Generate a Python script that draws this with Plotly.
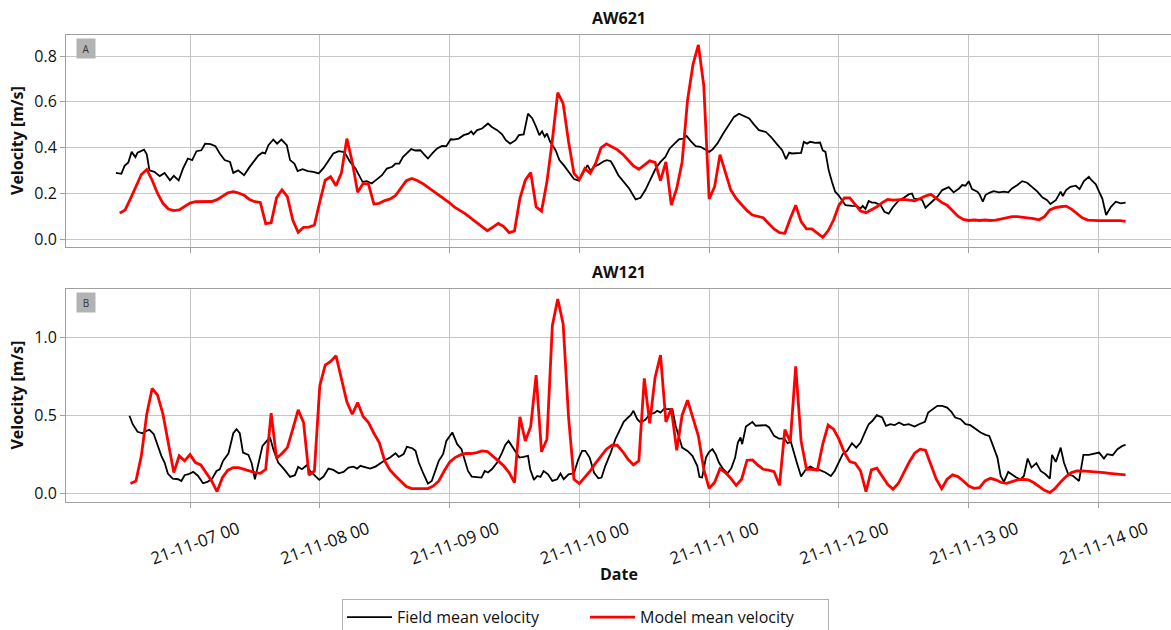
import pandas as pd
import plotly.graph_objects as go
from plotly.subplots import make_subplots

# ---------------- data ----------------
T0 = pd.Timestamp("2021-11-07 00:00")

# AW621 field mean velocity (hours after 2021-11-07 00:00, m/s)
top_field_hours = [
    -13.7, -12.7, -12.1, -11.4, -10.8, -10.1, -9.7, -8.5, -8.0, -7.5,
    -6.6, -5.6, -4.7, -3.7, -3.0, -2.1, -1.3, -0.4, 0.4, 1.2,
    2.1, 2.8, 3.8, 4.7, 5.5, 6.4, 7.4, 8.0, 8.9, 10.0,
    10.9, 11.8, 12.6, 13.4, 13.9, 14.5, 15.4, 16.1, 16.9, 17.9,
    18.5, 19.3, 19.9, 20.8, 21.8, 22.8, 23.8, 24.7, 25.5, 26.5,
    27.5, 28.3, 28.8, 29.6, 30.6, 31.3, 31.9, 32.7, 33.6, 34.6,
    35.5, 36.4, 37.4, 38.0, 38.7, 39.4, 40.1, 40.9, 41.7, 42.6,
    43.4, 44.0, 44.8, 45.7, 46.6, 47.4, 48.2,
    48.7, 49.7, 50.6, 51.5, 52.0, 52.4, 53.1, 54.0, 55.1, 55.8,
    56.8, 57.7, 58.4, 59.2, 60.2, 60.8, 61.7, 62.5, 63.3, 64.0,
    64.6, 65.1, 65.6, 66.0, 66.6, 67.6, 68.3, 69.1, 70.0, 71.0,
    71.9, 72.6, 73.5, 74.1, 74.7, 75.6, 76.5, 77.1, 77.8, 78.4,
    79.2, 80.2, 81.2, 82.4, 83.3, 84.2, 85.2, 86.1, 87.0, 87.9,
    88.7, 89.7, 90.4, 91.2, 91.8, 92.6, 93.5, 94.4, 95.4, 96.0,
    96.6, 97.5, 98.6, 99.7, 100.6, 101.5, 102.4, 103.4, 104.3, 105.2,
    106.5, 107.4, 108.6, 109.5, 110.2, 110.8,
    111.3, 113.0, 113.5, 114.1, 114.7, 115.6, 116.5, 117.0, 117.5, 118.1,
    118.7, 119.3, 119.9, 120.6, 121.2, 122.4, 123.3, 124.0, 124.4, 124.9,
    125.5, 126.1, 126.7, 127.7, 128.4, 129.2, 129.9, 131.1, 132.0, 132.9,
    133.5, 133.9, 134.8, 135.4, 136.0, 137.2, 138.2, 139.1, 140.3, 141.2,
    142.2, 142.8, 143.4, 144.0, 144.6, 145.6, 146.0, 146.6, 147.1, 147.8,
    148.6, 149.6, 150.5, 151.3, 152.0, 153.0, 153.9, 154.8, 155.7, 156.7,
    157.6, 158.5, 159.1, 160.1, 161.0, 161.4, 162.0, 162.8, 163.8, 164.5,
    165.3, 166.2, 166.7, 167.5, 168.1, 168.7, 169.4, 170.3, 171.2, 172.1,
    173.0,
]
top_field = [
    0.289, 0.285, 0.320, 0.335, 0.381, 0.358, 0.378, 0.391, 0.370, 0.300,
    0.294, 0.275, 0.289, 0.257, 0.276, 0.256, 0.308, 0.352, 0.345, 0.384,
    0.388, 0.417, 0.415, 0.406, 0.374, 0.345, 0.337, 0.289, 0.300, 0.279,
    0.311, 0.337, 0.364, 0.378, 0.374, 0.410, 0.435, 0.417, 0.435, 0.410,
    0.345, 0.330, 0.297, 0.305, 0.297, 0.294, 0.287, 0.311, 0.337, 0.374,
    0.384, 0.381, 0.370, 0.337, 0.308, 0.279, 0.250, 0.253, 0.243, 0.262,
    0.279, 0.308, 0.316, 0.330, 0.330, 0.359, 0.374, 0.393, 0.387, 0.388,
    0.367, 0.352, 0.374, 0.396, 0.407, 0.406, 0.436,
    0.435, 0.439, 0.454, 0.461, 0.471, 0.458, 0.476, 0.483, 0.505, 0.490,
    0.476, 0.458, 0.432, 0.417, 0.432, 0.454, 0.457, 0.548, 0.527, 0.490,
    0.454, 0.471, 0.447, 0.461, 0.425, 0.388, 0.345, 0.323, 0.294, 0.262,
    0.255, 0.287, 0.323, 0.297, 0.316, 0.326, 0.340, 0.345, 0.340, 0.316,
    0.279, 0.250, 0.221, 0.173, 0.180, 0.214, 0.265, 0.308, 0.337, 0.359,
    0.396, 0.417, 0.436, 0.439, 0.451, 0.428, 0.406, 0.403, 0.388, 0.381,
    0.391, 0.417, 0.461, 0.500, 0.534, 0.548, 0.538, 0.527, 0.500, 0.476,
    0.468, 0.447, 0.413, 0.388, 0.349, 0.378,
    0.374, 0.377, 0.425, 0.417, 0.425, 0.420, 0.422, 0.388, 0.381, 0.301,
    0.250, 0.207, 0.192, 0.166, 0.148, 0.145, 0.144, 0.134, 0.145, 0.131,
    0.166, 0.159, 0.159, 0.148, 0.119, 0.111, 0.137, 0.170, 0.180, 0.195,
    0.199, 0.177, 0.175, 0.170, 0.137, 0.163, 0.185, 0.214, 0.227, 0.204,
    0.221, 0.236, 0.233, 0.253, 0.218, 0.207, 0.195, 0.163, 0.192, 0.202,
    0.209, 0.204, 0.207, 0.204, 0.221, 0.236, 0.253, 0.246, 0.228, 0.207,
    0.182, 0.170, 0.153, 0.170, 0.207, 0.188, 0.214, 0.228, 0.233, 0.218,
    0.253, 0.272, 0.257, 0.239, 0.207, 0.177, 0.105, 0.141, 0.163, 0.156,
    0.159,
]

# AW621 model mean velocity, hourly, first value at 2021-11-06 11:00
top_model_start = "2021-11-06 11:00"
top_model = [
    0.113, 0.127, 0.177, 0.233, 0.282, 0.304, 0.257, 0.199, 0.156, 0.131,
    0.124, 0.127, 0.141, 0.157, 0.163, 0.164, 0.164, 0.164, 0.172, 0.188,
    0.202, 0.207, 0.201, 0.191, 0.173, 0.163, 0.160, 0.067, 0.071, 0.180,
    0.215, 0.185, 0.083, 0.029, 0.051, 0.052, 0.061, 0.163, 0.257, 0.272,
    0.233, 0.289, 0.439, 0.337, 0.204, 0.243, 0.240, 0.153, 0.156, 0.168,
    0.175, 0.190, 0.223, 0.255, 0.265, 0.256, 0.243, 0.226, 0.213, 0.196,
    0.179, 0.158, 0.138, 0.124, 0.109, 0.090, 0.071, 0.053, 0.036, 0.052,
    0.068, 0.054, 0.028, 0.035, 0.177, 0.257, 0.291, 0.141, 0.122, 0.250,
    0.432, 0.640, 0.592, 0.425, 0.287, 0.260, 0.308, 0.287, 0.330, 0.399,
    0.416, 0.403, 0.391, 0.371, 0.345, 0.320, 0.305, 0.323, 0.342, 0.335,
    0.255, 0.337, 0.148, 0.221, 0.337, 0.607, 0.762, 0.849, 0.672, 0.175,
    0.228, 0.369, 0.294, 0.214, 0.177, 0.148, 0.124, 0.105, 0.100, 0.093,
    0.068, 0.044, 0.028, 0.025, 0.090, 0.148, 0.076, 0.044, 0.044, 0.025,
    0.007, 0.036, 0.083, 0.148, 0.180, 0.180, 0.151, 0.122, 0.115, 0.129,
    0.141, 0.159, 0.173, 0.170, 0.173, 0.173, 0.170, 0.167, 0.177, 0.188,
    0.195, 0.177, 0.160, 0.148, 0.124, 0.100, 0.086, 0.081, 0.083, 0.081,
    0.083, 0.081, 0.083, 0.087, 0.093, 0.098, 0.098, 0.096, 0.093, 0.089,
    0.084, 0.098, 0.127, 0.137, 0.141, 0.144, 0.131, 0.112, 0.093, 0.083,
    0.080, 0.080, 0.080, 0.081, 0.081, 0.080, 0.077,
]

# AW121 field mean velocity (hours after 2021-11-07 00:00, m/s)
bot_field_hours = [
    -11.2, -10.6, -9.7, -8.8, -8.1, -7.5, -6.7, -5.9, -5.3, -4.7,
    -4.1, -3.2, -2.2, -1.6, -1.0, -0.3, 0.6, 1.5, 2.4, 3.2,
    4.1, 4.9, 5.5, 6.1, 7.1, 8.0, 8.6, 9.2, 9.8, 10.8,
    11.4, 12.0, 12.6, 13.4, 14.2, 14.8, 15.4, 16.3, 17.3, 18.5,
    19.4, 20.0, 20.7, 21.6, 22.2, 23.1, 23.9, 24.7, 25.6, 26.5,
    27.5, 28.4, 29.3, 30.2, 30.9, 31.5, 32.4, 33.3, 34.3, 35.2,
    36.1, 37.0, 38.0, 38.6, 39.5, 40.1, 41.1, 41.7, 42.3, 43.2,
    44.0, 44.7, 45.4, 46.0, 46.8, 47.4, 48.5,
    49.4, 50.2, 50.8, 51.4, 52.1, 53.1, 53.9, 54.5, 55.1, 55.8,
    56.8, 57.7, 58.3, 58.9, 59.5, 60.3, 60.9, 61.7, 62.5, 62.9,
    63.6, 64.2, 64.8, 65.4, 66.2, 67.0, 67.9, 68.5, 69.1, 70.0,
    71.0, 71.8, 72.5, 73.1, 73.9, 74.7, 75.5, 76.1, 76.8, 77.8,
    78.7, 79.4, 80.2, 81.0, 81.5, 82.0, 82.7, 83.3, 84.2, 85.0,
    85.8, 86.4, 87.0, 87.6, 88.4, 89.2, 89.8, 90.4, 91.0, 92.0,
    92.9, 93.8, 94.2, 94.7, 95.4, 96.0, 96.6, 97.2, 97.8, 98.6,
    99.4, 100.1, 100.8, 101.3, 101.8, 102.1, 102.8, 103.4, 104.0, 104.6,
    105.5, 106.5, 107.1, 108.0, 108.9, 109.9, 110.5, 111.1,
    112.2, 113.0, 113.9, 114.7, 115.6, 116.5, 117.5, 118.5, 119.2, 119.9,
    120.7, 121.5, 122.4, 123.2, 124.0, 124.8, 125.5, 126.2, 127.0, 128.0,
    128.7, 129.5, 130.3, 131.1, 132.0, 132.9, 134.0, 134.8, 135.9, 136.5,
    137.2, 138.2, 139.1, 140.0, 140.8, 141.5, 142.5, 143.4, 144.3, 145.3,
    146.2, 147.1, 147.8, 148.5, 149.3, 149.9, 150.5, 151.3, 152.0, 152.8,
    153.6, 154.2, 154.9, 155.6, 156.5, 157.3, 158.2, 159.0, 159.4, 160.1,
    161.0, 161.6, 162.4, 163.3, 164.4, 165.2, 166.2, 167.2, 168.1, 169.0,
    169.6, 170.6, 171.5, 172.4, 173.0,
]
bot_field = [
    0.497, 0.443, 0.394, 0.385, 0.400, 0.407, 0.379, 0.293, 0.240, 0.197,
    0.126, 0.094, 0.090, 0.079, 0.116, 0.122, 0.137, 0.111, 0.064, 0.073,
    0.094, 0.143, 0.154, 0.208, 0.255, 0.385, 0.411, 0.385, 0.261, 0.246,
    0.193, 0.090, 0.176, 0.304, 0.336, 0.358, 0.283, 0.197, 0.158, 0.105,
    0.116, 0.169, 0.154, 0.180, 0.143, 0.111, 0.086, 0.107, 0.158, 0.150,
    0.128, 0.137, 0.165, 0.171, 0.158, 0.176, 0.165, 0.158, 0.171, 0.193,
    0.214, 0.229, 0.257, 0.233, 0.251, 0.298, 0.289, 0.272, 0.197, 0.122,
    0.062, 0.079, 0.143, 0.208, 0.251, 0.336, 0.390,
    0.315, 0.283, 0.218, 0.143, 0.107, 0.101, 0.101, 0.143, 0.133, 0.154,
    0.197, 0.261, 0.310, 0.336, 0.304, 0.261, 0.229, 0.233, 0.240, 0.154,
    0.086, 0.111, 0.105, 0.143, 0.122, 0.079, 0.090, 0.126, 0.090, 0.122,
    0.128, 0.218, 0.272, 0.272, 0.229, 0.133, 0.096, 0.101, 0.176, 0.261,
    0.351, 0.400, 0.458, 0.486, 0.501, 0.529, 0.475, 0.454, 0.471, 0.507,
    0.514, 0.529, 0.518, 0.540, 0.540, 0.540, 0.433, 0.358, 0.293, 0.272,
    0.240, 0.176, 0.105, 0.101, 0.229, 0.266, 0.283, 0.251, 0.197, 0.154,
    0.128, 0.161, 0.229, 0.325, 0.358, 0.315, 0.428, 0.443, 0.458, 0.433,
    0.433, 0.437, 0.422, 0.368, 0.351, 0.351, 0.321, 0.330,
    0.197, 0.107, 0.154, 0.171, 0.154, 0.148, 0.133, 0.111, 0.143, 0.197,
    0.251, 0.272, 0.321, 0.293, 0.325, 0.390, 0.443, 0.465, 0.501, 0.486,
    0.433, 0.443, 0.437, 0.454, 0.437, 0.443, 0.428, 0.443, 0.458, 0.518,
    0.535, 0.561, 0.561, 0.550, 0.522, 0.486, 0.475, 0.443, 0.437, 0.411,
    0.390, 0.375, 0.368, 0.304, 0.229, 0.111, 0.073, 0.137, 0.122, 0.101,
    0.090, 0.111, 0.223, 0.165, 0.193, 0.143, 0.122, 0.094, 0.246, 0.201,
    0.293, 0.197, 0.122, 0.111, 0.079, 0.246, 0.246, 0.255, 0.261, 0.223,
    0.251, 0.244, 0.283, 0.304, 0.310,
]

# AW121 model mean velocity, hourly, first value at 2021-11-06 13:00
bot_model_start = "2021-11-06 13:00"
bot_model = [
    0.062, 0.079, 0.240, 0.507, 0.672, 0.630, 0.507, 0.325, 0.133, 0.240,
    0.208, 0.248, 0.197, 0.182, 0.133, 0.079, 0.011, 0.101, 0.148, 0.165,
    0.165, 0.154, 0.143, 0.133, 0.128, 0.154, 0.514, 0.225, 0.255, 0.293,
    0.411, 0.535, 0.454, 0.116, 0.143, 0.690, 0.822, 0.846, 0.882, 0.743,
    0.587, 0.507, 0.582, 0.493, 0.454, 0.385, 0.325, 0.208, 0.148, 0.111,
    0.079, 0.043, 0.030, 0.030, 0.030, 0.030, 0.047, 0.079, 0.143, 0.200,
    0.229, 0.246, 0.255, 0.255, 0.261, 0.272, 0.268, 0.240, 0.208, 0.176,
    0.133, 0.069, 0.490, 0.336, 0.428, 0.758, 0.266, 0.347, 1.075, 1.246,
    1.086, 0.486, 0.090, 0.062, 0.101, 0.143, 0.193, 0.240, 0.283, 0.308,
    0.308, 0.268, 0.218, 0.182, 0.208, 0.737, 0.448, 0.743, 0.886, 0.458,
    0.544, 0.276, 0.501, 0.597, 0.486, 0.368, 0.154, 0.032, 0.069, 0.158,
    0.133, 0.096, 0.051, 0.090, 0.212, 0.214, 0.180, 0.154, 0.148, 0.139,
    0.051, 0.408, 0.330, 0.814, 0.336, 0.154, 0.154, 0.148, 0.315, 0.437,
    0.411, 0.347, 0.261, 0.203, 0.193, 0.143, 0.011, 0.150, 0.161, 0.111,
    0.058, 0.026, 0.064, 0.133, 0.201, 0.257, 0.283, 0.276, 0.186, 0.090,
    0.030, 0.090, 0.118, 0.107, 0.079, 0.047, 0.032, 0.036, 0.079, 0.096,
    0.086, 0.069, 0.064, 0.073, 0.086, 0.090, 0.086, 0.069, 0.043, 0.019,
    0.004, 0.032, 0.073, 0.107, 0.133, 0.143, 0.143, 0.141, 0.139, 0.135,
    0.132, 0.128, 0.124, 0.120, 0.118,
]

panel_titles = ["AW621", "AW121"]
panel_letters = ["A", "B"]
series_names = ["Field mean velocity", "Model mean velocity"]
x_range = ["2021-11-06 01:04", "2021-11-14 13:24"]

# ---------------- build ----------------
def hours_to_time(hours):
    return [T0 + pd.Timedelta(hours=h) for h in hours]

top_model_t = pd.date_range(top_model_start, periods=len(top_model), freq="h")
bot_model_t = pd.date_range(bot_model_start, periods=len(bot_model), freq="h")

FONT = "Open Sans"
GRID = "#c6c6c6"
LINE = "#a0a0a0"

fig = make_subplots(rows=2, cols=1, shared_xaxes=True)

fig.add_trace(go.Scatter(x=hours_to_time(top_field_hours), y=top_field, mode="lines",
                         name=series_names[0], line=dict(color="#000000", width=1.8),
                         legendgroup="f"), row=1, col=1)
fig.add_trace(go.Scatter(x=top_model_t, y=top_model, mode="lines",
                         name=series_names[1], line=dict(color="#ff0000", width=2.8),
                         legendgroup="m"), row=1, col=1)
fig.add_trace(go.Scatter(x=hours_to_time(bot_field_hours), y=bot_field, mode="lines",
                         name=series_names[0], line=dict(color="#000000", width=1.8),
                         legendgroup="f", showlegend=False), row=2, col=1)
fig.add_trace(go.Scatter(x=bot_model_t, y=bot_model, mode="lines",
                         name=series_names[1], line=dict(color="#ff0000", width=2.8),
                         legendgroup="m", showlegend=False), row=2, col=1)

xcommon = dict(type="date", range=x_range, tickformat="%y-%m-%d %H",
               tick0="2021-11-07", dtick=86400000, showgrid=True, gridcolor=GRID,
               gridwidth=1, showline=True, linecolor=LINE, linewidth=1, mirror=True,
               ticks="outside", ticklen=5, tickcolor=LINE, zeroline=False)
fig.update_xaxes(**xcommon)
fig.update_xaxes(showticklabels=False, row=1, col=1)
fig.update_xaxes(tickangle=-20, tickfont=dict(size=17, color="#111"),
                 ticklabelshift=48, ticklabelstandoff=5, row=2, col=1)

ycommon = dict(showgrid=True, gridcolor=GRID, gridwidth=1, showline=True,
               linecolor=LINE, linewidth=1, ticks="outside", ticklen=5,
               tickcolor=LINE, zeroline=False, tickformat=".1f",
               tickfont=dict(size=16, color="#111"))
fig.update_yaxes(**ycommon)
fig.update_yaxes(range=[-0.035, 0.892], dtick=0.2, domain=[0.546, 1.0], row=1, col=1)
fig.update_yaxes(range=[-0.056, 1.31], tickvals=[0, 0.5, 1.0], domain=[0.0, 0.456], row=2, col=1)

annotations = []
for i, (ttl, let) in enumerate(zip(panel_titles, panel_letters)):
    yref = "y domain" if i == 0 else "y2 domain"
    annotations.append(dict(text=f"<b>{ttl}</b>", xref="paper", yref=yref, x=0.5, y=1,
                            xanchor="center", yanchor="bottom", yshift=4, showarrow=False,
                            font=dict(size=16, color="#111")))
    annotations.append(dict(text=let, xref="x domain" if i == 0 else "x2 domain", yref=yref,
                            x=0, y=1, xanchor="left", yanchor="top", xshift=10, yshift=-3,
                            showarrow=False, bgcolor="#b3b3b3", width=14, height=15,
                            borderpad=2, font=dict(size=10, color="#333")))
    annotations.append(dict(text="<b>Velocity [m/s]</b>", xref="paper", yref=yref,
                            x=0, y=0.5, xshift=-49, xanchor="center", yanchor="middle",
                            textangle=-90, showarrow=False, font=dict(size=16, color="#111")))
annotations.append(dict(text="<b>Date</b>", xref="paper", yref="paper", x=0.5, y=-0.154,
                        xanchor="center", yanchor="middle", showarrow=False,
                        font=dict(size=16, color="#111")))

fig.update_layout(
    width=1171, height=630,
    margin=dict(l=66, r=0, t=35, b=128),
    paper_bgcolor="white", plot_bgcolor="white",
    font=dict(family=FONT, size=16, color="#111"),
    annotations=annotations,
    showlegend=True,
    legend=dict(orientation="h", xref="container", yref="container", x=0.5, xanchor="center",
                y=0.049, yanchor="top", bordercolor="#b0b0b0", borderwidth=1,
                font=dict(size=16, color="#111"), itemwidth=45, entrywidth=183,
                bgcolor="white"),
)

fig.write_html("out.html")
